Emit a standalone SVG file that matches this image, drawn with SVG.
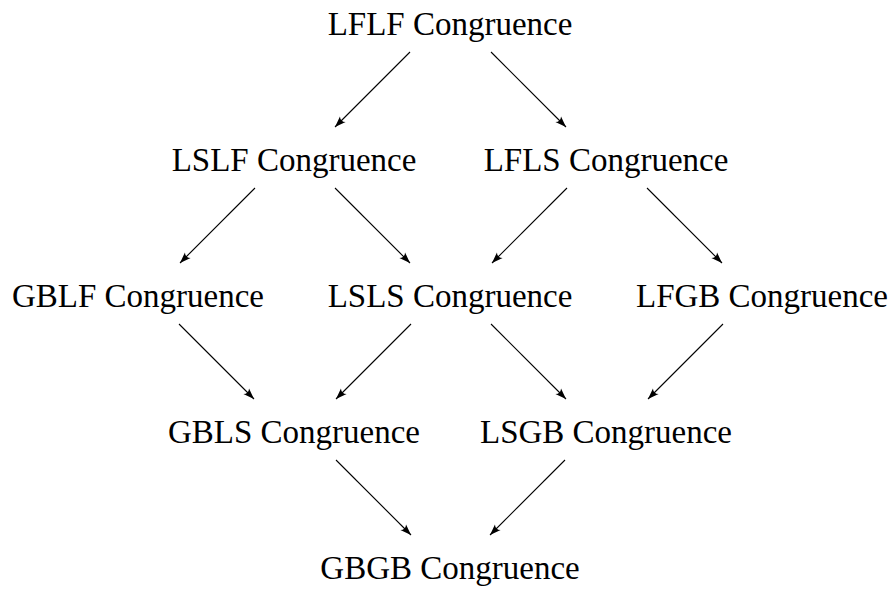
<svg xmlns="http://www.w3.org/2000/svg" width="895" height="589" viewBox="0 0 895 589">
  <defs>
    <style>
      .lbl { font-family: "Liberation Serif", "Times New Roman", serif; font-size: 33px; fill: #000; text-anchor: middle; }
      .edge { stroke: #000; stroke-width: 1.1; fill: none; marker-end: url(#tip); }
    </style>
    <marker id="tip" markerUnits="userSpaceOnUse" markerWidth="14" markerHeight="10" viewBox="-11 -5 12 10" refX="0" refY="0" orient="auto">
      <path d="M0,0 L-11,-4 Q-7.5,0 -11,4 Z" fill="#000"/>
    </marker>
  </defs>
  <rect width="895" height="589" fill="#fff"/>

  <!-- lattice nodes: columns 138/294/450/606/762, rows every 136px -->
  <g id="lflf"><text class="lbl" x="450" y="35">LFLF Congruence</text></g>
  <g id="lslf"><text class="lbl" x="294" y="171">LSLF Congruence</text></g>
  <g id="lfls"><text class="lbl" x="606" y="171">LFLS Congruence</text></g>
  <g id="gblf"><text class="lbl" x="138" y="307">GBLF Congruence</text></g>
  <g id="lsls"><text class="lbl" x="450" y="307">LSLS Congruence</text></g>
  <g id="lfgb"><text class="lbl" x="762" y="307">LFGB Congruence</text></g>
  <g id="gbls"><text class="lbl" x="294" y="443">GBLS Congruence</text></g>
  <g id="lsgb"><text class="lbl" x="606" y="443">LSGB Congruence</text></g>
  <g id="gbgb"><text class="lbl" x="450" y="579">GBGB Congruence</text></g>

  <!-- arrows between levels -->
  <g id="connectors">
    <line class="edge" x1="410" y1="52" x2="335" y2="127"/>
    <line class="edge" x1="491" y1="52" x2="566" y2="127"/>

    <line class="edge" x1="255" y1="188" x2="180" y2="263"/>
    <line class="edge" x1="335" y1="188" x2="410" y2="263"/>
    <line class="edge" x1="567" y1="188" x2="492" y2="263"/>
    <line class="edge" x1="647" y1="188" x2="722" y2="263"/>

    <line class="edge" x1="179" y1="324" x2="254" y2="399"/>
    <line class="edge" x1="411" y1="324" x2="336" y2="399"/>
    <line class="edge" x1="491" y1="324" x2="566" y2="399"/>
    <line class="edge" x1="723" y1="324" x2="648" y2="399"/>

    <line class="edge" x1="336" y1="460" x2="411" y2="535"/>
    <line class="edge" x1="565" y1="460" x2="490" y2="535"/>
  </g>
</svg>
